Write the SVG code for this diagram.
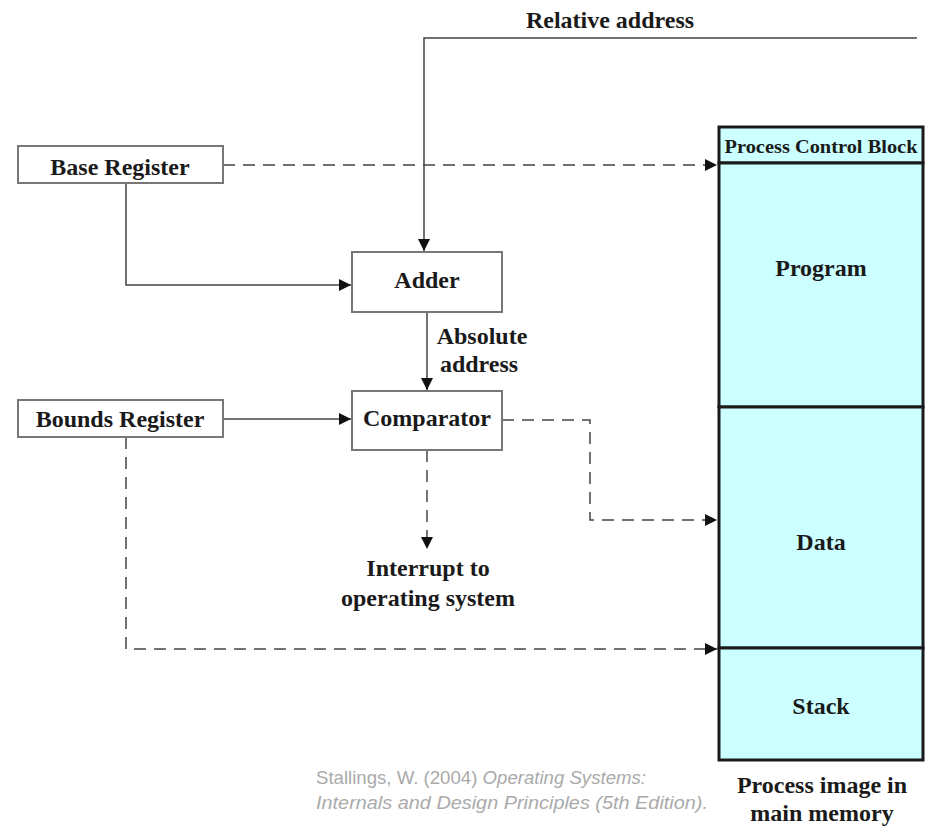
<svg xmlns="http://www.w3.org/2000/svg" width="927" height="829" viewBox="0 0 927 829">
<style>
.t{font-family:"Liberation Serif","Times New Roman",serif;font-weight:bold;fill:#1a1a1a;text-anchor:middle;font-size:24px}
.box{fill:#fff;stroke:#777;stroke-width:2}
.mem{fill:#ccffff;stroke:#1a1a1a;stroke-width:3}
.ln{fill:none;stroke:#444;stroke-width:1.5}
.dash{fill:none;stroke:#444;stroke-width:1.5;stroke-dasharray:12 8}
.cite{font-family:"Liberation Sans",Arial,sans-serif;fill:#aaa;font-size:19px}
</style>
<defs>
<marker id="ah" viewBox="0 0 10 10" refX="10" refY="5" markerWidth="12" markerHeight="12" markerUnits="userSpaceOnUse" orient="auto">
<path d="M0,0 L10,5 L0,10 z" fill="#111"/>
</marker>
</defs>
<rect width="927" height="829" fill="#fff"/>
<g id="connectors">
<polyline class="ln" points="917,38 424,38 424,251" marker-end="url(#ah)"/>
<polyline class="dash" points="223,165 717,165" marker-end="url(#ah)"/>
<polyline class="ln" points="126,183 126,285 351,285" marker-end="url(#ah)"/>
<polyline class="ln" points="427,312 427,390" marker-end="url(#ah)"/>
<polyline class="ln" points="223,419 351,419" marker-end="url(#ah)"/>
<polyline class="dash" points="502,420 590,420 590,520 717,520" marker-end="url(#ah)"/>
<polyline class="dash" points="427,450 427,549" marker-end="url(#ah)"/>
<polyline class="dash" points="126,437 126,649 717,649" marker-end="url(#ah)"/>
</g>
<g id="relative-label"><text class="t" x="610" y="28">Relative address</text></g>
<g id="base-register">
<rect class="box" x="18" y="146" width="205" height="37"/>
<text class="t" x="120" y="175">Base Register</text>
</g>
<g id="bounds-register">
<rect class="box" x="18" y="400" width="205" height="37"/>
<text class="t" x="120" y="427">Bounds Register</text>
</g>
<g id="adder">
<rect class="box" x="352" y="252" width="150" height="60"/>
<text class="t" x="427" y="288">Adder</text>
</g>
<g id="absolute-label">
<text class="t" x="482" y="344">Absolute</text>
<text class="t" x="479" y="372">address</text>
</g>
<g id="comparator">
<rect class="box" x="352" y="391" width="150" height="59"/>
<text class="t" x="427" y="426">Comparator</text>
</g>
<g id="interrupt-label">
<text class="t" x="428" y="576">Interrupt to</text>
<text class="t" x="428" y="606">operating system</text>
</g>
<g id="process-image">
<rect class="mem" x="719" y="127" width="204" height="36"/>
<text class="t" x="821" y="153" font-size="19" textLength="193" lengthAdjust="spacingAndGlyphs" style="font-size:19px">Process Control Block</text>
<rect class="mem" x="719" y="163" width="204" height="244"/>
<text class="t" x="821" y="276">Program</text>
<rect class="mem" x="719" y="407" width="204" height="241"/>
<text class="t" x="821" y="550">Data</text>
<rect class="mem" x="719" y="648" width="204" height="112"/>
<text class="t" x="821" y="714">Stack</text>
<text class="t" x="822" y="793">Process image in</text>
<text class="t" x="822" y="821">main memory</text>
</g>
<g id="citation">
<text class="cite" x="316" y="784" textLength="330" lengthAdjust="spacingAndGlyphs">Stallings, W. (2004) <tspan font-style="italic">Operating Systems:</tspan></text>
<text class="cite" x="316" y="809" font-style="italic" textLength="392" lengthAdjust="spacingAndGlyphs">Internals and Design Principles (5th Edition).</text>
</g>
</svg>
